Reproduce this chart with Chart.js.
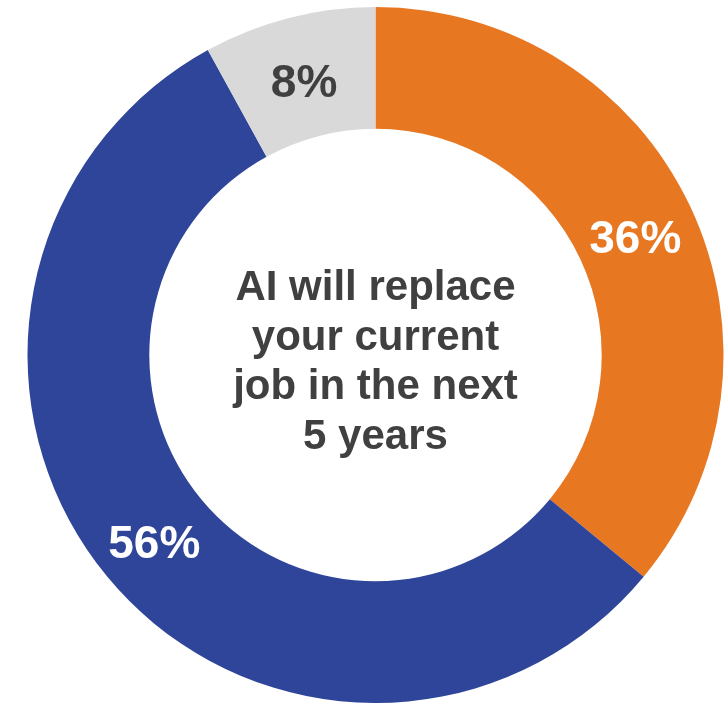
<!DOCTYPE html>
<html>
<head>
<meta charset="utf-8">
<script src="https://cdn.jsdelivr.net/npm/chart.js@4"></script>
<style>
  html, body { margin: 0; padding: 0; background: #fff; }
  #wrap { width: 725px; height: 705px; }
</style>
</head>
<body>
<div id="wrap"><canvas id="aiChart"></canvas></div>
<script>
var labels = ['Yes', 'No', "Don't know"];
var values = [36, 56, 8];
var colors = ['#E87722', '#2F4599', '#D9D9D9'];
var labelColors = ['#FFFFFF', '#FFFFFF', '#404040'];
var centerLines = ['AI will replace', 'your current', 'job in the next', '5 years'];

// draws the % labels on the arcs and the text in the hole
var textPlugin = {
    id: 'donutText',
    afterDatasetsDraw: function (chart) {
        var c = chart.ctx;
        var meta = chart.getDatasetMeta(0);
        c.save();
        c.font = 'bold 46px "Liberation Sans", Arial, sans-serif';
        c.textAlign = 'center';
        c.textBaseline = 'alphabetic';
        meta.data.forEach(function (arc, i) {
            var p = arc.tooltipPosition();
            c.fillStyle = labelColors[i];
            c.fillText(values[i] + '%', p.x, p.y + 20);
        });
        var cx = meta.data[0].x, cy = meta.data[0].y;
        c.font = 'bold 42px "Liberation Sans", Arial, sans-serif';
        c.fillStyle = '#404040';
        var lh = 49.5;
        var first = cy - 55;
        centerLines.forEach(function (t, i) {
            c.fillText(t, cx, first + i * lh);
        });
        c.restore();
    }
};

var ctx = document.getElementById('aiChart').getContext('2d');
var aiChart = new Chart(ctx, {
    type: 'doughnut',
    data: {
        labels: labels,
        datasets: [{
            data: values,
            backgroundColor: colors,
            borderWidth: 0,
            hoverOffset: 0
        }]
    },
    options: {
        responsive: true,
        maintainAspectRatio: false,
        animation: false,
        cutout: '65%',
        layout: { padding: { top: 7, left: 27, right: 1, bottom: 2 } },
        plugins: {
            legend: { display: false },
            tooltip: { enabled: false }
        }
    },
    plugins: [textPlugin]
});
</script>
</body>
</html>
